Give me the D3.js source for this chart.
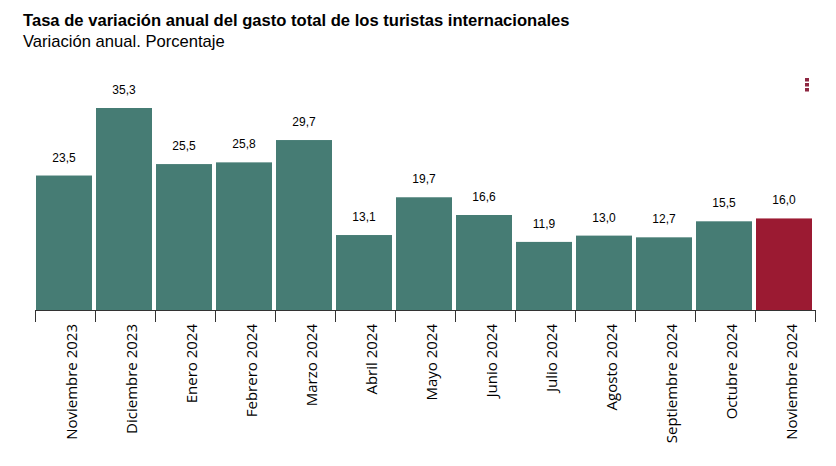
<!DOCTYPE html>
<html>
<head>
<meta charset="utf-8">
<script src="https://cdn.jsdelivr.net/npm/d3@7"></script>
<style>
  body { margin: 0; background: #fff; }
  svg text { font-family: Arial, "Liberation Sans", sans-serif; }
  .x.axis text { font-family: "Open Sans", sans-serif; font-size: 15px; fill: #000; }
  .x.axis path, .x.axis line { stroke: #333; }
</style>
</head>
<body>
<div id="vis"></div>
<script>
var months = ["Noviembre 2023", "Diciembre 2023", "Enero 2024", "Febrero 2024", "Marzo 2024",
  "Abril 2024", "Mayo 2024", "Junio 2024", "Julio 2024", "Agosto 2024",
  "Septiembre 2024", "Octubre 2024", "Noviembre 2024"];
var values = [23.5, 35.3, 25.5, 25.8, 29.7, 13.1, 19.7, 16.6, 11.9, 13.0, 12.7, 15.5, 16.0];

var totalW = 836, totalH = 466;
var margin = { top: 108, right: 21, bottom: 156, left: 35 };
var width = totalW - margin.left - margin.right,
    height = totalH - margin.top - margin.bottom;

var svg = d3.select("#vis").append("svg")
    .attr("width", totalW)
    .attr("height", totalH);

// titles
svg.append("text")
    .attr("x", 23).attr("y", 26)
    .style("font-size", "16.6px").style("font-weight", "bold")
    .text("Tasa de variación anual del gasto total de los turistas internacionales");
svg.append("text")
    .attr("x", 23).attr("y", 47)
    .style("font-size", "16.6px")
    .text("Variación anual. Porcentaje");

// menu dots
svg.selectAll(".dot").data([0, 1, 2]).enter().append("rect")
    .attr("x", 805).attr("y", d => 78 + d * 5)
    .attr("width", 4).attr("height", 3.5)
    .attr("fill", "#8e2741");

var g = svg.append("g")
    .attr("transform", "translate(" + margin.left + "," + margin.top + ")");

var x = d3.scaleBand().domain(months).range([0, width]);
var y = d3.scaleLinear().domain([0, d3.max(values)]).range([height, 0]);

g.selectAll("rect.bar")
    .data(values)
    .enter().append("rect")
    .attr("class", "bar")
    .attr("x", (d, i) => x(months[i]) + 1)
    .attr("y", d => y(d))
    .attr("width", x.bandwidth() - 4)
    .attr("height", d => height - y(d))
    .attr("fill", (d, i) => i == values.length - 1 ? "#9b1a32" : "#467c74");

g.selectAll("text.val")
    .data(values)
    .enter().append("text")
    .attr("class", "val")
    .attr("x", (d, i) => x(months[i]) + x.bandwidth() / 2 - 1)
    .attr("y", d => y(d) - 14)
    .attr("text-anchor", "middle")
    .style("font-size", "12px")
    .text(d => d3.format(".1f")(d).replace(".", ","));

var xAxis = d3.axisBottom(x).tickSize(12).tickSizeOuter(12).tickFormat(d => d);

var ax = g.append("g")
    .attr("class", "x axis")
    .attr("transform", "translate(0," + height + ")")
    .call(xAxis);

// ticks at band boundaries, not centres
ax.selectAll(".tick line").remove();
ax.selectAll(".bound").data(d3.range(months.length + 1)).enter().append("line")
    .attr("class", "bound")
    .attr("x1", i => i * x.step() + 0.5).attr("x2", i => i * x.step() + 0.5)
    .attr("y1", 0).attr("y2", 12)
    .attr("stroke", "#333");
ax.select(".domain").attr("d", "M0.5,0.5H" + (width + 0.5));

ax.selectAll(".tick text")
    .attr("x", -14)
    .attr("y", 0)
    .attr("dy", "0.35em")
    .attr("dx", 0)
    .style("text-anchor", "end")
    .attr("transform", "translate(7,0) rotate(-90)");
</script>
</body>
</html>
